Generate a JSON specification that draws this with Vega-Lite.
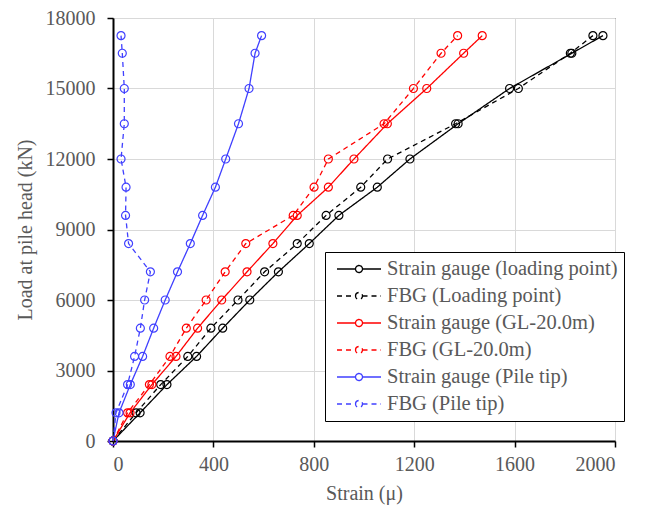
{
  "$schema": "https://vega.github.io/schema/vega-lite/v6.json",
  "autosize": "none",
  "width": 502,
  "height": 423,
  "padding": {"left": 113, "top": 18, "right": 30, "bottom": 68},
  "background": "white",
  "config": {
    "font": "Liberation Serif",
    "view": {"stroke": "black", "strokeWidth": 1},
    "axis": {
      "domainColor": "black",
      "domainWidth": 2,
      "gridColor": "#d9d9d9",
      "gridWidth": 1,
      "tickColor": "black",
      "tickWidth": 1.5,
      "labelColor": "#595959",
      "titleColor": "#595959",
      "labelFontSize": 20,
      "titleFontSize": 20,
      "titleFontWeight": "normal",
      "labelFont": "Liberation Serif",
      "titleFont": "Liberation Serif"
    }
  },
  "data": {
    "values": [
      {"series": "Strain gauge (loading point)", "load": 0, "strain": 0},
      {"series": "Strain gauge (loading point)", "load": 1200, "strain": 108},
      {"series": "Strain gauge (loading point)", "load": 2400, "strain": 215},
      {"series": "Strain gauge (loading point)", "load": 3600, "strain": 333},
      {"series": "Strain gauge (loading point)", "load": 4800, "strain": 437},
      {"series": "Strain gauge (loading point)", "load": 6000, "strain": 545},
      {"series": "Strain gauge (loading point)", "load": 7200, "strain": 659},
      {"series": "Strain gauge (loading point)", "load": 8400, "strain": 782},
      {"series": "Strain gauge (loading point)", "load": 9600, "strain": 900},
      {"series": "Strain gauge (loading point)", "load": 10800, "strain": 1053},
      {"series": "Strain gauge (loading point)", "load": 12000, "strain": 1183},
      {"series": "Strain gauge (loading point)", "load": 13500, "strain": 1375},
      {"series": "Strain gauge (loading point)", "load": 15000, "strain": 1580},
      {"series": "Strain gauge (loading point)", "load": 16500, "strain": 1828},
      {"series": "Strain gauge (loading point)", "load": 17250, "strain": 1952},
      {"series": "FBG (Loading point)", "load": 0, "strain": 0},
      {"series": "FBG (Loading point)", "load": 1200, "strain": 92},
      {"series": "FBG (Loading point)", "load": 2400, "strain": 190},
      {"series": "FBG (Loading point)", "load": 3600, "strain": 298},
      {"series": "FBG (Loading point)", "load": 4800, "strain": 390},
      {"series": "FBG (Loading point)", "load": 6000, "strain": 498},
      {"series": "FBG (Loading point)", "load": 7200, "strain": 604},
      {"series": "FBG (Loading point)", "load": 8400, "strain": 734},
      {"series": "FBG (Loading point)", "load": 9600, "strain": 849},
      {"series": "FBG (Loading point)", "load": 10800, "strain": 987},
      {"series": "FBG (Loading point)", "load": 12000, "strain": 1094},
      {"series": "FBG (Loading point)", "load": 13500, "strain": 1365},
      {"series": "FBG (Loading point)", "load": 15000, "strain": 1615},
      {"series": "FBG (Loading point)", "load": 16500, "strain": 1822},
      {"series": "FBG (Loading point)", "load": 17250, "strain": 1912},
      {"series": "Strain gauge (GL-20.0m)", "load": 0, "strain": 0},
      {"series": "Strain gauge (GL-20.0m)", "load": 1200, "strain": 68},
      {"series": "Strain gauge (GL-20.0m)", "load": 2400, "strain": 155},
      {"series": "Strain gauge (GL-20.0m)", "load": 3600, "strain": 251},
      {"series": "Strain gauge (GL-20.0m)", "load": 4800, "strain": 337},
      {"series": "Strain gauge (GL-20.0m)", "load": 6000, "strain": 433},
      {"series": "Strain gauge (GL-20.0m)", "load": 7200, "strain": 534},
      {"series": "Strain gauge (GL-20.0m)", "load": 8400, "strain": 637},
      {"series": "Strain gauge (GL-20.0m)", "load": 9600, "strain": 734},
      {"series": "Strain gauge (GL-20.0m)", "load": 10800, "strain": 858},
      {"series": "Strain gauge (GL-20.0m)", "load": 12000, "strain": 960},
      {"series": "Strain gauge (GL-20.0m)", "load": 13500, "strain": 1093},
      {"series": "Strain gauge (GL-20.0m)", "load": 15000, "strain": 1250},
      {"series": "Strain gauge (GL-20.0m)", "load": 16500, "strain": 1397},
      {"series": "Strain gauge (GL-20.0m)", "load": 17250, "strain": 1471},
      {"series": "FBG (GL-20.0m)", "load": 0, "strain": 0},
      {"series": "FBG (GL-20.0m)", "load": 1200, "strain": 58},
      {"series": "FBG (GL-20.0m)", "load": 2400, "strain": 145},
      {"series": "FBG (GL-20.0m)", "load": 3600, "strain": 227},
      {"series": "FBG (GL-20.0m)", "load": 4800, "strain": 292},
      {"series": "FBG (GL-20.0m)", "load": 6000, "strain": 371},
      {"series": "FBG (GL-20.0m)", "load": 7200, "strain": 447},
      {"series": "FBG (GL-20.0m)", "load": 8400, "strain": 529},
      {"series": "FBG (GL-20.0m)", "load": 9600, "strain": 718},
      {"series": "FBG (GL-20.0m)", "load": 10800, "strain": 801},
      {"series": "FBG (GL-20.0m)", "load": 12000, "strain": 858},
      {"series": "FBG (GL-20.0m)", "load": 13500, "strain": 1080},
      {"series": "FBG (GL-20.0m)", "load": 15000, "strain": 1197},
      {"series": "FBG (GL-20.0m)", "load": 16500, "strain": 1307},
      {"series": "FBG (GL-20.0m)", "load": 17250, "strain": 1373},
      {"series": "Strain gauge (Pile tip)", "load": 0, "strain": 0},
      {"series": "Strain gauge (Pile tip)", "load": 1200, "strain": 24},
      {"series": "Strain gauge (Pile tip)", "load": 2400, "strain": 69},
      {"series": "Strain gauge (Pile tip)", "load": 3600, "strain": 118},
      {"series": "Strain gauge (Pile tip)", "load": 4800, "strain": 162},
      {"series": "Strain gauge (Pile tip)", "load": 6000, "strain": 208},
      {"series": "Strain gauge (Pile tip)", "load": 7200, "strain": 257},
      {"series": "Strain gauge (Pile tip)", "load": 8400, "strain": 308},
      {"series": "Strain gauge (Pile tip)", "load": 9600, "strain": 357},
      {"series": "Strain gauge (Pile tip)", "load": 10800, "strain": 408},
      {"series": "Strain gauge (Pile tip)", "load": 12000, "strain": 449},
      {"series": "Strain gauge (Pile tip)", "load": 13500, "strain": 500},
      {"series": "Strain gauge (Pile tip)", "load": 15000, "strain": 542},
      {"series": "Strain gauge (Pile tip)", "load": 16500, "strain": 566},
      {"series": "Strain gauge (Pile tip)", "load": 17250, "strain": 592},
      {"series": "FBG (Pile tip)", "load": 0, "strain": 0},
      {"series": "FBG (Pile tip)", "load": 1200, "strain": 12},
      {"series": "FBG (Pile tip)", "load": 2400, "strain": 58},
      {"series": "FBG (Pile tip)", "load": 3600, "strain": 86},
      {"series": "FBG (Pile tip)", "load": 4800, "strain": 109},
      {"series": "FBG (Pile tip)", "load": 6000, "strain": 126},
      {"series": "FBG (Pile tip)", "load": 7200, "strain": 149},
      {"series": "FBG (Pile tip)", "load": 8400, "strain": 62},
      {"series": "FBG (Pile tip)", "load": 9600, "strain": 50},
      {"series": "FBG (Pile tip)", "load": 10800, "strain": 52},
      {"series": "FBG (Pile tip)", "load": 12000, "strain": 32},
      {"series": "FBG (Pile tip)", "load": 13500, "strain": 45},
      {"series": "FBG (Pile tip)", "load": 15000, "strain": 45},
      {"series": "FBG (Pile tip)", "load": 16500, "strain": 37},
      {"series": "FBG (Pile tip)", "load": 17250, "strain": 32}
    ]
  },
  "encoding": {
    "x": {
      "field": "strain",
      "type": "quantitative",
      "scale": {"domain": [0, 2000], "nice": false, "zero": true},
      "axis": {
        "title": "Strain (μ)",
        "values": [0, 400, 800, 1200, 1600, 2000],
        "format": "d",
        "tickSize": 6,
        "labelPadding": 7,
        "titlePadding": 9
      }
    },
    "y": {
      "field": "load",
      "type": "quantitative",
      "scale": {"domain": [0, 18000], "nice": false},
      "axis": {
        "title": "Load at pile head (kN)",
        "values": [0, 3000, 6000, 9000, 12000, 15000, 18000],
        "format": "d",
        "tickSize": 6,
        "labelPadding": 12,
        "titlePadding": 10
      }
    },
    "color": {
      "field": "series",
      "type": "nominal",
      "scale": {
        "domain": ["Strain gauge (loading point)", "FBG (Loading point)", "Strain gauge (GL-20.0m)", "FBG (GL-20.0m)", "Strain gauge (Pile tip)", "FBG (Pile tip)"],
        "range": ["#000000", "#000000", "#ff0000", "#ff0000", "#4040ff", "#4040ff"]
      },
      "legend": {
        "title": null,
        "orient": "none",
        "legendX": 212,
        "legendY": 234,
        "fillColor": "white",
        "strokeColor": "black",
        "padding": 6,
        "labelFont": "Liberation Serif",
        "labelFontSize": 20.5,
        "labelColor": "#595959",
        "labelLimit": 400,
        "symbolType": "M-2.2,0L-0.35,0M0.35,0L2.2,0M-0.35,0A0.35,0.35 0 1,1 0.35,0A0.35,0.35 0 1,1 -0.35,0",
        "symbolSize": 400,
        "symbolStrokeWidth": 1.3,
        "symbolFillColor": "transparent",
        "symbolOffset": 17,
        "labelOffset": 17,
        "rowPadding": 5
      }
    },
    "order": {"field": "load", "type": "quantitative"}
  },
  "layer": [
    {
      "mark": {"type": "line", "strokeWidth": 1.3},
      "encoding": {
        "strokeDash": {
          "field": "series",
          "type": "nominal",
          "scale": {
            "domain": ["Strain gauge (loading point)", "FBG (Loading point)", "Strain gauge (GL-20.0m)", "FBG (GL-20.0m)", "Strain gauge (Pile tip)", "FBG (Pile tip)"],
            "range": [[1, 0], [5, 4], [1, 0], [5, 4], [1, 0], [5, 4]]
          },
          "legend": {
            "title": null,
            "orient": "none",
            "legendX": 212,
            "legendY": 234,
            "fillColor": "white",
            "strokeColor": "black",
            "padding": 6,
            "labelFont": "Liberation Serif",
            "labelFontSize": 20.5,
            "labelColor": "#595959",
            "labelLimit": 400,
            "symbolType": "M-2.2,0L-0.35,0M0.35,0L2.2,0M-0.35,0A0.35,0.35 0 1,1 0.35,0A0.35,0.35 0 1,1 -0.35,0",
            "symbolSize": 400,
            "symbolStrokeWidth": 1.3,
            "symbolFillColor": "transparent",
            "symbolOffset": 17,
            "labelOffset": 17,
            "rowPadding": 5
          }
        }
      }
    },
    {
      "mark": {"type": "point", "shape": "circle", "filled": false, "size": 64, "strokeWidth": 1.2, "opacity": 1}
    }
  ]
}
